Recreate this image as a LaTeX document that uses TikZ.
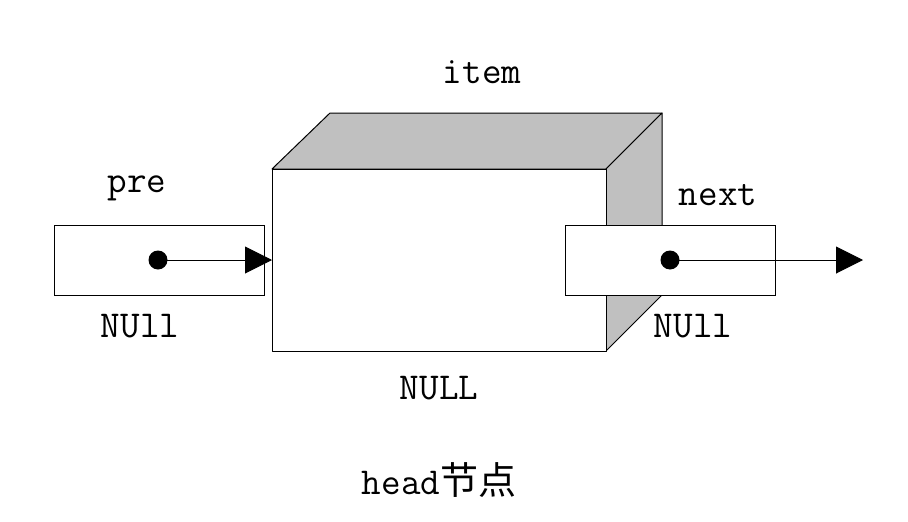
\documentclass[tikz,border=0pt]{standalone}
\usepackage{fontspec}
\newfontfamily\cjk{Noto Sans CJK SC}
\usetikzlibrary{arrows.meta}
\definecolor{shade}{RGB}{192,192,192}
\begin{document}
\begin{tikzpicture}[x=1pt,y=-1pt,
  lbl/.style={font=\fontsize{38}{42}\selectfont\ttfamily, inner sep=0pt, anchor=center},
  ptrbox/.style={draw=black, fill=white, line width=1pt},
  face/.style={draw=black, line width=1pt, line join=round},
  dotc/.style={circle, fill=black, minimum size=19pt, inner sep=0pt},
  link/.style={line width=1pt, -{Triangle[length=27pt,width=27pt]}}]
\useasboundingbox (0,0) rectangle (908,522);
% cube
\draw[face, fill=shade] (272,169) -- (330,113) -- (662,113) -- (606,169) -- cycle;
\draw[face, fill=shade] (606,169) -- (662,113) -- (662,295) -- (606,351) -- cycle;
\draw[face, fill=white] (272,169) rectangle (606,351);
\coordinate (cubeL) at (272,260);
% pointer boxes
\node[ptrbox, minimum width=210pt, minimum height=70pt, inner sep=0pt] (prebox) at (159,260) {};
\node[ptrbox, minimum width=210pt, minimum height=70pt, inner sep=0pt] (nextbox) at (670,260) {};
\node[dotc] (predot) at (158,260) {};
\node[dotc] (nextdot) at (670,260) {};
\coordinate (nextend) at (863,260);
\draw[link] (predot.center) -- (cubeL);
\draw[link] (nextdot.center) -- (nextend);
% labels
\node[lbl] (item) at (482,72) {item};
\node[lbl] (pre) at (137,188) {pre};
\node[lbl] (next) at (718,195) {next};
\node[lbl] (nulll) at (140,326) {NUll};
\node[lbl] (nullr) at (693,326) {NUll};
\node[lbl] (nullc) at (439,388) {NULL};
\node[lbl] (head) at (439,480) {head{\cjk 节点}};
\end{tikzpicture}
\end{document}
